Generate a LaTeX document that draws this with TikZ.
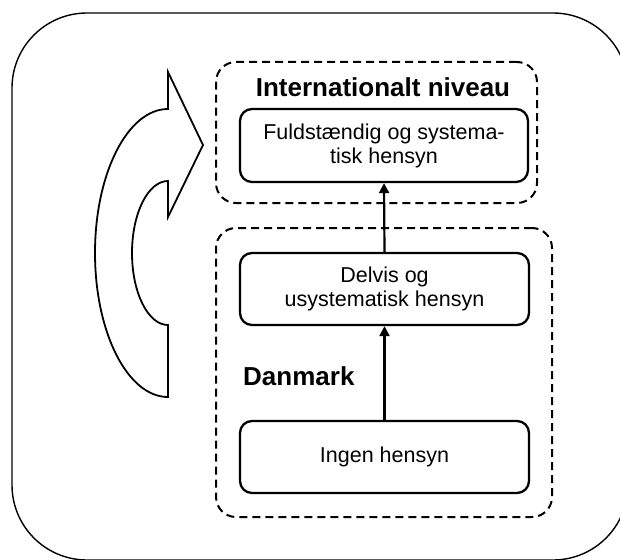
\documentclass[tikz,border=0pt]{standalone}
\usepackage{fontspec}
\setmainfont{Liberation Sans}
\usetikzlibrary{arrows.meta}
\begin{document}
\begin{tikzpicture}[x=1pt,y=-1pt,
  group/.style={draw, line width=2pt, dash pattern=on 8pt off 5pt,
    rounded corners=20pt, inner sep=0pt},
  stepbox/.style={draw, line width=2.3pt, rounded corners=12pt, inner sep=0pt,
    minimum width=289pt, minimum height=72pt, align=center,
    font=\fontsize{21.5}{24}\selectfont},
  heading/.style={inner sep=0pt, font=\fontsize{26}{30}\selectfont\bfseries},
  conn/.style={line width=2.2pt, -{Triangle[length=10pt,width=10pt]}}]
\useasboundingbox (0,0) rectangle (620,559);
\clip (0,0) rectangle (620,559);
\fill[white] (0,0) rectangle (620,559);

% outer frame
\draw[line width=1.4pt, rounded corners=75pt] (12,13) rectangle (628,560);

% group frames
\node[group, minimum width=321pt, minimum height=141pt] (intl) at (376.5,132.5) {};
\node[group, minimum width=336pt, minimum height=289pt] (dk) at (384,372.5) {};

% group titles
\node[heading, anchor=base] (intltitle) at (383,96) {Internationalt niveau};
\node[heading, anchor=base west] (dktitle) at (243,385) {Danmark};

% levels
\node[stepbox, minimum width=288pt, minimum height=73pt] (full) at (384,145.5)
  {Fuldstændig og systema-\\tisk hensyn};
\node[stepbox] (delvis) at (384.5,289) {Delvis og\\usystematisk hensyn};
\node[stepbox] (ingen) at (384.5,457) {Ingen hensyn};

% connectors
\draw[conn] (ingen.north) -- (delvis.south);
\draw[conn] (delvis.north) -- (full.south);

% curved arrow
\draw[line width=1.8pt, line join=miter, fill=white]
  (168,397) arc[start angle=90, end angle=270, x radius=73, y radius=144]
  -- (168,72) -- (203,145) -- (168,217) -- (168,181)
  arc[start angle=270, end angle=90, x radius=36, y radius=72]
  -- cycle;
\end{tikzpicture}
\end{document}
